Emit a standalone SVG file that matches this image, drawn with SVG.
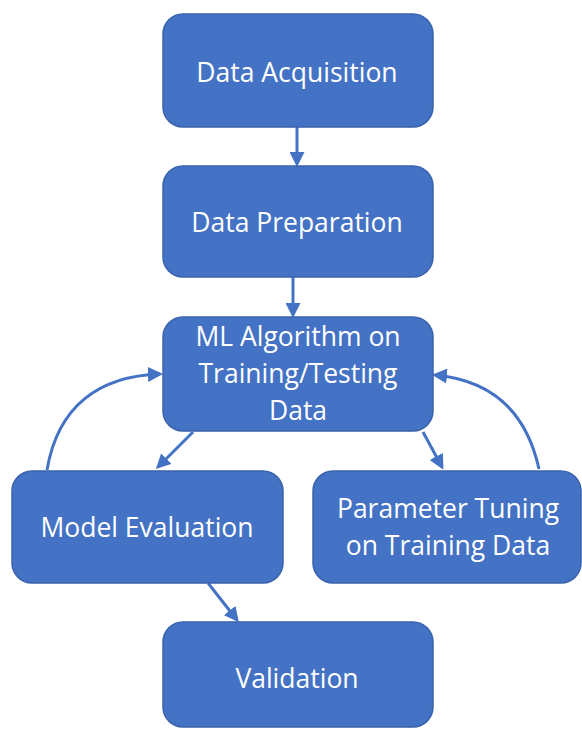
<svg xmlns="http://www.w3.org/2000/svg" width="582" height="729" viewBox="0 0 582 729">
  <style>
    .box { fill: #4472C4; stroke: #3A63AD; stroke-width: 1.5; }
    .lbl { fill: #ffffff; font-family: "Open Sans", "Noto Sans", "DejaVu Sans", sans-serif; font-size: 26.5px; text-anchor: middle; }
    .edge { fill: none; stroke: #4472C4; stroke-width: 3; }
  </style>
  <defs>
    <marker id="arrow" markerWidth="5" markerHeight="5" refX="4" refY="2.5" orient="auto" markerUnits="strokeWidth">
      <path d="M0,0 L5,2.5 L0,5 z" fill="#4472C4"/>
    </marker>
  </defs>
  <rect x="0" y="0" width="582" height="729" fill="#ffffff"/>

  <g id="connectors">
    <line class="edge" x1="297" y1="127" x2="297" y2="164" marker-end="url(#arrow)"/>
    <line class="edge" x1="293" y1="277" x2="293" y2="315" marker-end="url(#arrow)"/>
    <line class="edge" x1="193" y1="432" x2="158" y2="467" marker-end="url(#arrow)"/>
    <line class="edge" x1="423" y1="432" x2="442" y2="467" marker-end="url(#arrow)"/>
    <line class="edge" x1="208" y1="583" x2="237" y2="620" marker-end="url(#arrow)"/>
    <path class="edge" d="M47,470 C58,405 100,376 160,374" marker-end="url(#arrow)"/>
    <path class="edge" d="M539,469 C526,410 490,380 435,375" marker-end="url(#arrow)"/>
  </g>

  <g id="data-acquisition">
    <rect class="box" x="163" y="14" width="270" height="113" rx="20"/>
    <text class="lbl" x="297" y="82">Data Acquisition</text>
  </g>
  <g id="data-preparation">
    <rect class="box" x="163" y="166" width="270" height="111" rx="20"/>
    <text class="lbl" x="297" y="232">Data Preparation</text>
  </g>
  <g id="ml-algorithm">
    <rect class="box" x="163" y="317" width="270" height="114" rx="20"/>
    <text class="lbl" x="298" y="346">ML Algorithm on</text>
    <text class="lbl" x="298" y="383">Training/Testing</text>
    <text class="lbl" x="298" y="420">Data</text>
  </g>
  <g id="model-evaluation">
    <rect class="box" x="12" y="471" width="271" height="112" rx="20"/>
    <text class="lbl" x="147" y="537">Model Evaluation</text>
  </g>
  <g id="parameter-tuning">
    <rect class="box" x="313" y="471" width="268" height="112" rx="20"/>
    <text class="lbl" x="448" y="518">Parameter Tuning</text>
    <text class="lbl" x="448" y="555">on Training Data</text>
  </g>
  <g id="validation">
    <rect class="box" x="163" y="622" width="270" height="105" rx="20"/>
    <text class="lbl" x="297" y="688">Validation</text>
  </g>
</svg>
